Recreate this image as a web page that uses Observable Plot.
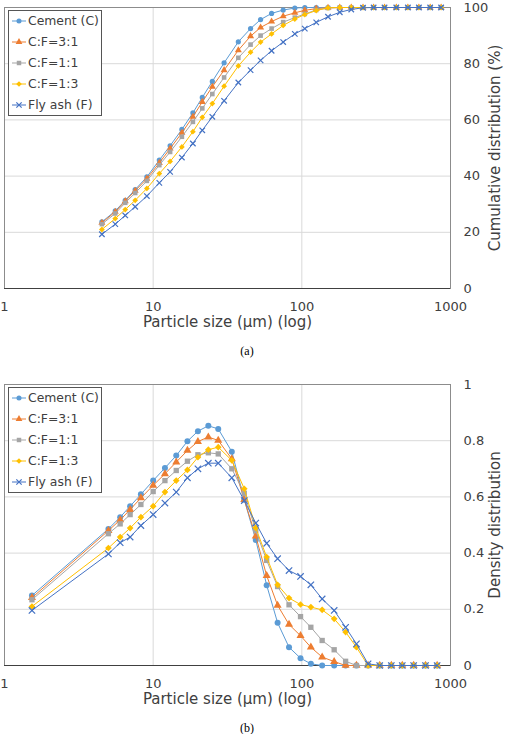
<!DOCTYPE html>
<html>
<head>
<meta charset="utf-8">
<script src="https://cdn.jsdelivr.net/npm/d3@7"></script>
<script src="https://cdn.jsdelivr.net/npm/@observablehq/plot@0.6"></script>
<style>
  body { margin: 0; background: #fff; }
  #page { position: relative; width: 510px; height: 734px; overflow: hidden; font-family: "DejaVu Sans", sans-serif; }
  .panel { position: absolute; left: 0; }
  .caption { position: absolute; left: 0; width: 494px; text-align: center; font-family: "Liberation Serif", serif; font-size: 12px; color: #000; }
  .legend { position: absolute; left: 8px; }
</style>
</head>
<body>
<div id="page"></div>
<script>
// Series shared by both panels
const seriesNames = ["Cement (C)", "C:F=3:1", "C:F=1:1", "C:F=1:3", "Fly ash (F)"];
const seriesColors = ["#5B9BD5", "#ED7D31", "#A5A5A5", "#FFC000", "#4472C4"];
const seriesSymbols = ["circle", "triangle", "square", "diamond2", "times"];

// Axis ticks and titles
const sizeTicks = [1, 10, 100, 1000];
const cumTicks = [0, 20, 40, 60, 80, 100];
const densTicks = [0, 0.2, 0.4, 0.6, 0.8, 1];
const sizeTitle = "Particle size (µm) (log)";

// (a) cumulative distribution, % passing vs particle size (µm)
const cumSizes = [4.52, 5.56, 6.49, 7.57, 9.07, 11.0, 13.0, 15.6, 18.5, 21.4, 25.0, 30.0, 37.4, 45.2, 52.8,
  62.6, 74.9, 89.7, 104.7, 125, 150, 180, 215, 258, 304, 360, 432, 517, 613, 730, 865];
const cumCement = [23.7, 27.6, 31.4, 35.2, 39.7, 45.7, 50.8, 56.6, 62.5, 68.0, 73.7, 80.3, 87.8, 92.5, 95.7,
  97.9, 99.1, 99.8, 100, 100, 100, 100, 100, 100, 100, 100, 100, 100, 100, 100, 100];
const cum31 = [23.4, 27.3, 31.1, 34.8, 39.1, 44.7, 49.8, 55.4, 61.1, 66.4, 71.8, 77.7, 84.8, 89.8, 92.9,
  95.0, 96.9, 98.1, 99.0, 99.6, 99.9, 100, 100, 100, 100, 100, 100, 100, 100, 100, 100];
const cum11 = [22.9, 26.7, 30.5, 34.0, 38.3, 43.9, 48.6, 54.0, 59.3, 64.1, 69.2, 75.1, 82.1, 86.8, 90.0,
  92.5, 94.8, 96.4, 97.7, 99.1, 99.8, 100, 100, 100, 100, 100, 100, 100, 100, 100, 100];
const cum13 = [21.0, 24.9, 28.1, 31.4, 35.6, 40.9, 45.2, 50.4, 55.8, 60.9, 65.8, 72.0, 79.2, 84.1, 87.7,
  90.6, 93.6, 95.9, 97.5, 98.9, 99.9, 100, 100, 100, 100, 100, 100, 100, 100, 100, 100];
const cumFlyAsh = [19.3, 22.9, 26.0, 29.1, 32.9, 37.6, 41.5, 46.6, 51.6, 56.3, 61.1, 66.8, 73.3, 77.7, 81.2,
  84.6, 87.7, 90.6, 92.5, 94.7, 96.7, 98.3, 99.3, 99.9, 100, 100, 100, 100, 100, 100, 100];

// (b) density distribution vs particle size (µm)
const densSizes = [1.53, 5.0, 6.0, 7.0, 8.27, 10, 12, 14.3, 17, 20, 23.5, 27.4, 33.8, 41, 49, 58, 68.7, 82, 98,
  115, 137, 165, 197, 233, 279, 334, 400, 474, 565, 679, 813];
const densCement = [0.249, 0.486, 0.528, 0.567, 0.609, 0.658, 0.703, 0.747, 0.798, 0.834, 0.853, 0.842, 0.761,
  0.59, 0.447, 0.286, 0.152, 0.065, 0.026, 0.006, 0, 0, 0, 0, 0, 0, 0, 0, 0, 0, 0];
const dens31 = [0.241, 0.480, 0.518, 0.555, 0.596, 0.641, 0.682, 0.724, 0.765, 0.797, 0.813, 0.801, 0.735,
  0.59, 0.46, 0.32, 0.214, 0.146, 0.106, 0.065, 0.030, 0.014, 0, 0, 0, 0, 0, 0, 0, 0, 0];
const dens11 = [0.234, 0.469, 0.504, 0.537, 0.573, 0.619, 0.658, 0.694, 0.727, 0.750, 0.757, 0.753, 0.700,
  0.613, 0.48, 0.374, 0.281, 0.216, 0.174, 0.136, 0.089, 0.056, 0.015, 0, 0, 0, 0, 0, 0, 0, 0];
const dens13 = [0.210, 0.418, 0.457, 0.489, 0.528, 0.567, 0.617, 0.658, 0.696, 0.741, 0.768, 0.777, 0.730,
  0.629, 0.49, 0.386, 0.287, 0.240, 0.217, 0.208, 0.198, 0.166, 0.119, 0.065, 0, 0, 0, 0, 0, 0, 0];
const densFlyAsh = [0.196, 0.397, 0.437, 0.457, 0.498, 0.537, 0.578, 0.617, 0.668, 0.700, 0.720, 0.720, 0.668,
  0.587, 0.507, 0.435, 0.380, 0.338, 0.317, 0.287, 0.237, 0.196, 0.136, 0.077, 0.006, 0, 0, 0, 0, 0, 0];

const textColor = "#404040";

function toRows(sizes, seriesValues) {
  const rows = [];
  seriesNames.forEach((name, i) => {
    seriesValues[i].forEach((v, j) => rows.push({ series: name, size: sizes[j], value: v }));
  });
  return rows;
}

function markerOptions(i, r) {
  const base = { x: "size", y: "value", symbol: () => seriesSymbols[i], r };
  return seriesSymbols[i] === "times"
    ? { ...base, stroke: seriesColors[i], strokeWidth: 1.2, fill: "none" }
    : { ...base, fill: seriesColors[i], stroke: "none" };
}

function makePanel({ sizes, values, yDomain, yTicks, yFormat, yLabel, r }) {
  const rows = toRows(sizes, values);
  const marks = [
    Plot.gridY(yTicks.slice(1, -1), { stroke: "#d9d9d9", strokeOpacity: 1 }),
    Plot.gridX([10, 100], { stroke: "#d9d9d9", strokeOpacity: 1 }),
    Plot.frame({ stroke: "#8c8c8c" }),
    Plot.ruleY([yDomain[0]], { stroke: "#404040", strokeWidth: 1.2 }),
    Plot.axisX(sizeTicks, { tickSize: 0, tickPadding: 13, tickFormat: (d) => String(d), fontSize: 13, label: null }),
    Plot.axisY(yTicks, { anchor: "right", tickSize: 0, tickPadding: 13, tickFormat: yFormat, fontSize: 13, textAnchor: "start", label: null }),
    // axis titles
    Plot.text([sizeTitle], { frameAnchor: "bottom", dy: 34, fontSize: 15, fill: textColor, textAnchor: "middle", lineAnchor: "middle" }),
    Plot.text([yLabel], { frameAnchor: "right", dx: 45, rotate: -90, fontSize: 15, fill: textColor, textAnchor: "middle", lineAnchor: "middle" })
  ];
  seriesNames.forEach((name, i) => {
    const d = rows.filter((row) => row.series === name);
    marks.push(Plot.line(d, { x: "size", y: "value", stroke: seriesColors[i], strokeWidth: 1 }));
    marks.push(Plot.dot(d, markerOptions(i, r)));
  });
  return Plot.plot({
    width: 510, height: 335,
    marginLeft: 4, marginRight: 60, marginTop: 7, marginBottom: 47,
    x: { type: "log", domain: [1, 1000] },
    y: { domain: yDomain },
    style: { fontFamily: "DejaVu Sans", fontSize: "13px", color: textColor, background: "transparent", overflow: "visible" },
    marks
  });
}

function makeLegend() {
  const w = 94, h = 106;
  const svg = d3.create("svg").attr("width", w).attr("height", h);
  svg.append("rect").attr("x", 0.5).attr("y", 0.5).attr("width", w - 1).attr("height", h - 1)
    .attr("fill", "#fff").attr("stroke", "#555");
  seriesNames.forEach((name, i) => {
    const y = 11 + i * 21;
    const g = svg.append("g").attr("transform", `translate(0,${y})`);
    g.append("line").attr("x1", 4).attr("x2", 18).attr("stroke", seriesColors[i]).attr("stroke-width", 1);
    const symType = {
      circle: d3.symbolCircle, triangle: d3.symbolTriangle, square: d3.symbolSquare,
      diamond2: d3.symbolDiamond2, times: d3.symbolTimes
    }[seriesSymbols[i]];
    const path = g.append("path").attr("transform", "translate(11,0)").attr("d", d3.symbol(symType, 20)());
    if (seriesSymbols[i] === "times") path.attr("fill", "none").attr("stroke", seriesColors[i]).attr("stroke-width", 1.2);
    else path.attr("fill", seriesColors[i]);
    g.append("text").attr("x", 20).attr("dy", "0.35em").attr("fill", textColor)
      .attr("font-family", "DejaVu Sans").attr("font-size", 12.4).text(name);
  });
  return svg.node();
}

const page = document.getElementById("page");

function place(node, top, cls) {
  const div = document.createElement("div");
  div.className = cls;
  div.style.top = top + "px";
  div.appendChild(node);
  page.appendChild(div);
  return div;
}

function caption(text, top) {
  const div = document.createElement("div");
  div.className = "caption";
  div.style.top = top + "px";
  div.textContent = text;
  page.appendChild(div);
}

// (a)
place(makePanel({
  sizes: cumSizes,
  values: [cumCement, cum31, cum11, cum13, cumFlyAsh],
  yDomain: [0, 100], yTicks: cumTicks, yFormat: (d) => String(d),
  yLabel: "Cumulative distribution (%)", r: 2.6
}), 0, "panel");
place(makeLegend(), 10, "legend");
caption("(a)", 344);

// (b)
place(makePanel({
  sizes: densSizes,
  values: [densCement, dens31, dens11, dens13, densFlyAsh],
  yDomain: [0, 1], yTicks: densTicks, yFormat: (d) => String(d),
  yLabel: "Density distribution", r: 3
}), 377, "panel");
place(makeLegend(), 387, "legend");
caption("(b)", 721);
</script>
</body>
</html>
